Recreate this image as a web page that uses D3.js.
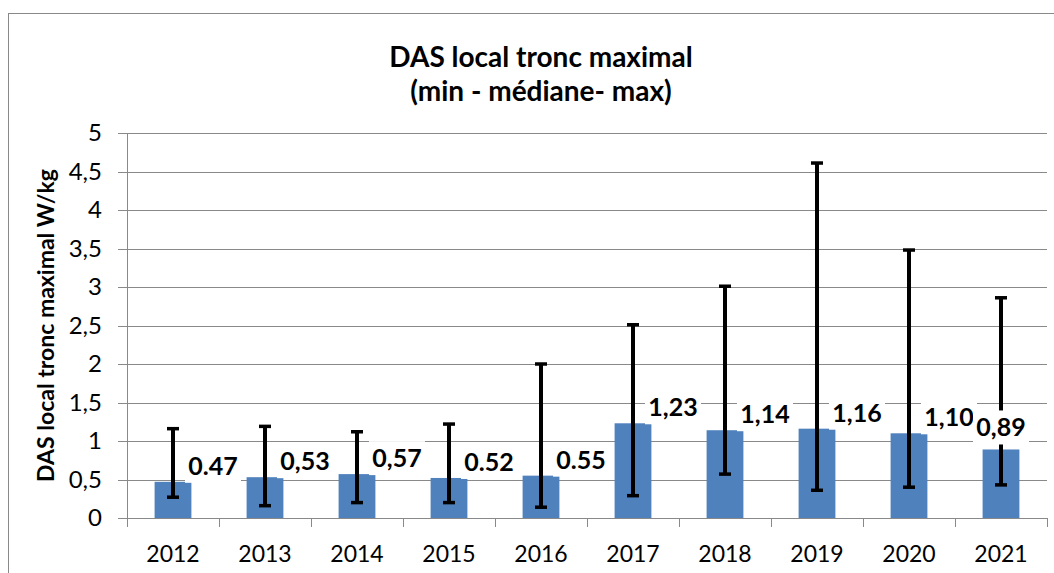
<!DOCTYPE html>
<html>
<head>
<meta charset="utf-8">
<script src="https://cdn.jsdelivr.net/npm/d3@7"></script>
<style>
  body { margin: 0; background: #fff; }
  text { font-family: Lato, "Open Sans", sans-serif; }
</style>
</head>
<body>
<svg id="chart"></svg>
<script>
// chart size
var width = 1054;
var height = 573;

// data
var years = ["2012", "2013", "2014", "2015", "2016", "2017", "2018", "2019", "2020", "2021"];
var medians = [0.47, 0.53, 0.57, 0.52, 0.55, 1.23, 1.14, 1.16, 1.10, 0.89];
var mins = [0.27, 0.16, 0.20, 0.20, 0.14, 0.29, 0.57, 0.36, 0.40, 0.43];
var maxs = [1.16, 1.19, 1.12, 1.22, 2.00, 2.51, 3.01, 4.61, 3.48, 2.86];
var labels = ["0.47", "0,53", "0,57", "0.52", "0.55", "1,23", "1,14", "1,16", "1,10", "0,89"];
var yTicks = [0, 0.5, 1, 1.5, 2, 2.5, 3, 3.5, 4, 4.5, 5];

var gridColor = "#898989";
var barColor = "#4f81bd";

var svg = d3.select("#chart")
    .attr("width", width)
    .attr("height", height);

// outer frame of the chart area
svg.append("rect")
    .attr("x", 8.5).attr("y", 13.5)
    .attr("width", 1070).attr("height", 600)
    .attr("fill", "#fff")
    .attr("stroke", gridColor);

var plot = { left: 127, right: 1047, top: 133, bottom: 518 };

var x = d3.scaleBand()
    .domain(years)
    .range([plot.left, plot.right])
    .paddingInner(0.6)
    .paddingOuter(0.3);

var y = d3.scaleLinear()
    .domain([0, 5])
    .range([plot.bottom, plot.top]);

var fmt = function (d) { return String(d).replace(".", ","); };

// horizontal gridlines
svg.append("g")
    .attr("transform", "translate(" + plot.left + ",0)")
    .call(d3.axisLeft(y).tickValues(yTicks).tickSize(-(plot.right - plot.left)).tickFormat(""))
    .call(function (g) { g.select(".domain").remove(); })
    .selectAll("line")
    .attr("stroke", gridColor)
    .attr("shape-rendering", "crispEdges");

// y axis with labels
var yAxis = svg.append("g")
    .attr("transform", "translate(" + plot.left + ",0)")
    .call(d3.axisLeft(y).tickValues(yTicks).tickSize(9).tickSizeOuter(0).tickPadding(16).tickFormat(fmt));
yAxis.select(".domain").attr("stroke", gridColor).attr("shape-rendering", "crispEdges")
    .attr("d", "M0.5," + y(5) + "V" + (plot.bottom + 9));
yAxis.selectAll("line").attr("stroke", gridColor).attr("shape-rendering", "crispEdges");
yAxis.selectAll("text")
    .attr("fill", "#000")
    .style("font-size", "24px")
    .style("font-family", "Lato, sans-serif");

// x axis line
svg.append("line")
    .attr("x1", plot.left).attr("x2", plot.right)
    .attr("y1", plot.bottom + 0.5).attr("y2", plot.bottom + 0.5)
    .attr("stroke", gridColor);

// x ticks sit on the category boundaries
var boundaries = years.map(function (d) { return x(d) - x.step() * x.paddingOuter(); });
boundaries.push(plot.right);
svg.selectAll(".xtick")
    .data(boundaries)
    .enter().append("line")
    .attr("class", "xtick")
    .attr("x1", function (d) { return Math.round(d) + 0.5; })
    .attr("x2", function (d) { return Math.round(d) + 0.5; })
    .attr("y1", plot.bottom)
    .attr("y2", plot.bottom + 9)
    .attr("stroke", gridColor);

// x labels
svg.selectAll(".xlabel")
    .data(years)
    .enter().append("text")
    .attr("class", "xlabel")
    .attr("x", function (d) { return x(d) + x.bandwidth() / 2; })
    .attr("y", 562)
    .attr("text-anchor", "middle")
    .style("font-size", "23px")
    .text(function (d) { return d; });

// bars
svg.selectAll(".bar")
    .data(years)
    .enter().append("rect")
    .attr("class", "bar")
    .attr("x", function (d) { return x(d); })
    .attr("width", x.bandwidth())
    .attr("y", function (d, i) { return y(medians[i]); })
    .attr("height", function (d, i) { return y(0) - y(medians[i]); })
    .attr("fill", barColor);

// min - max error bars
var err = svg.append("g");
years.forEach(function (d, i) {
    var cx = x(d) + x.bandwidth() / 2;
    err.append("line")
        .attr("x1", cx).attr("x2", cx)
        .attr("y1", y(mins[i])).attr("y2", y(maxs[i]))
        .attr("stroke", "#000").attr("stroke-width", 4);
    [mins[i], maxs[i]].forEach(function (v) {
        err.append("line")
            .attr("x1", cx - 6).attr("x2", cx + 6)
            .attr("y1", y(v)).attr("y2", y(v))
            .attr("stroke", "#000").attr("stroke-width", 3.5);
    });
});

// median labels with white box behind
var lab = svg.selectAll(".lab")
    .data(years)
    .enter().append("g")
    .attr("class", "lab")
    .attr("transform", function (d, i) {
        var last = i === years.length - 1;
        var cx = x(d) + x.bandwidth() / 2 + (last ? 0 : 40);
        var cy = y(medians[i]) - (last ? 22 : 16);
        return "translate(" + cx + "," + cy + ")";
    });
lab.append("rect")
    .attr("x", -28).attr("y", -17)
    .attr("width", 56).attr("height", 34)
    .attr("fill", "#fff");
lab.append("text")
    .attr("text-anchor", "middle")
    .attr("dy", "0.36em")
    .style("font-size", "25px")
    .style("font-weight", "bold")
    .text(function (d, i) { return labels[i]; });

// title, two lines
svg.append("text")
    .attr("x", 541).attr("y", 67)
    .attr("text-anchor", "middle")
    .style("font-size", "28px")
    .style("font-weight", "bold")
    .text("DAS local tronc maximal");
svg.append("text")
    .attr("x", 541).attr("y", 101)
    .attr("text-anchor", "middle")
    .style("font-size", "28px")
    .style("font-weight", "bold")
    .text("(min - médiane- max)");

// y axis title
svg.append("text")
    .attr("transform", "translate(54," + ((plot.top + plot.bottom) / 2) + ") rotate(-90)")
    .attr("text-anchor", "middle")
    .style("font-size", "23px")
    .style("font-weight", "bold")
    .text("DAS local tronc maximal W/kg");
</script>
</body>
</html>
